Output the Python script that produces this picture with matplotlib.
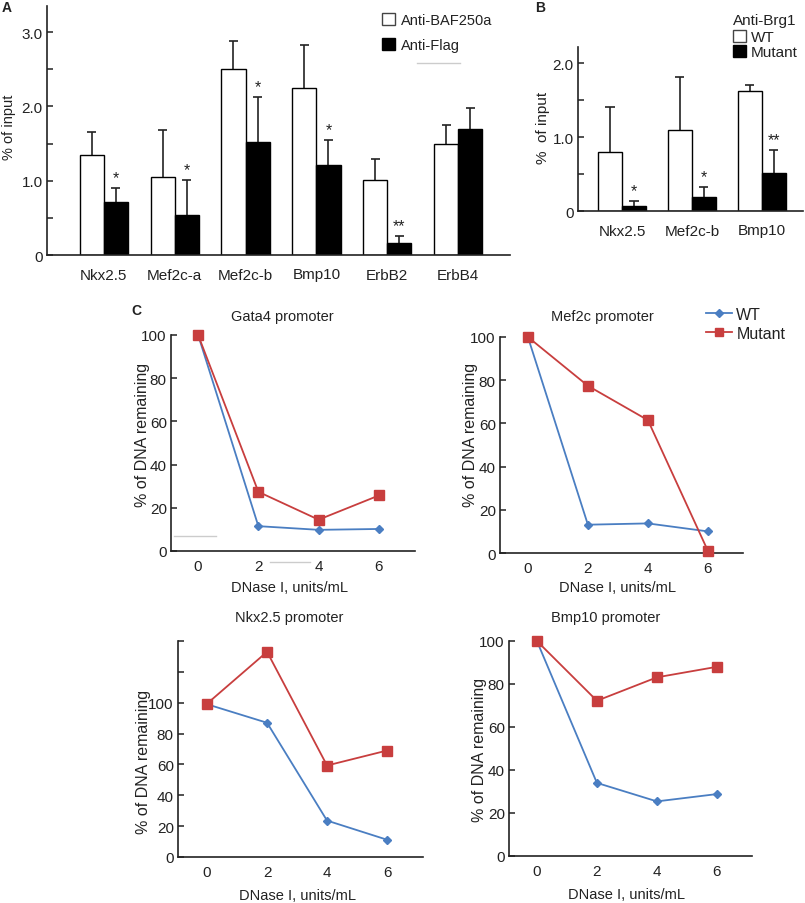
import matplotlib
matplotlib.use("Agg")
import matplotlib.pyplot as plt
import numpy as np
from matplotlib.patches import Patch
from matplotlib.lines import Line2D

plt.rcParams['font.family'] = ['Liberation Sans', 'DejaVu Sans']
plt.rcParams['font.size'] = 10
plt.rcParams['text.color'] = '#222222'

# --- Panel A data ---
genes_a = ["Nkx2.5", "Mef2c-a", "Mef2c-b", "Bmp10", "ErbB2", "ErbB4"]
baf_a = [1.35, 1.05, 2.50, 2.25, 1.01, 1.49]
baf_err_a = [0.30, 0.63, 0.38, 0.57, 0.28, 0.26]
flag_a = [0.71, 0.54, 1.52, 1.21, 0.16, 1.70]
flag_err_a = [0.19, 0.47, 0.61, 0.34, 0.10, 0.28]
stars_a = ["*", "*", "*", "*", "**", ""]

# --- Panel B data ---
genes_b = ["Nkx2.5", "Mef2c-b", "Bmp10"]
wt_b = [0.80, 1.10, 1.63]
wt_err_b = [0.61, 0.72, 0.07]
mut_b = [0.07, 0.19, 0.51]
mut_err_b = [0.06, 0.13, 0.31]
stars_b = ["*", "*", "**"]

# --- Panel C data ---
dnase = [0, 2, 4, 6]
gata4_wt = [100, 11.5, 9.8, 10.2]
gata4_mut = [100, 27.4, 14.5, 25.7]
mef2c_wt = [100, 13.1, 13.7, 10.0]
mef2c_mut = [100, 77.4, 61.5, 1.0]
nkx_wt = [99, 87, 23.6, 11.2]
nkx_mut = [99.4, 133, 59.3, 69]
bmp10_wt = [100, 34, 25.4, 28.8]
bmp10_mut = [100, 72.2, 83.1, 88]

W, H = 805, 904
fig = plt.figure(figsize=(W / 100, H / 100), dpi=100)


def rect(left, top, right, bottom):
    return [left / W, 1 - bottom / H, (right - left) / W, (bottom - top) / H]


def px(x, y):
    return x / W, 1 - y / H


def style_axes(ax):
    for s in ["top", "right"]:
        ax.spines[s].set_visible(False)
    for s in ["left", "bottom"]:
        ax.spines[s].set_linewidth(1.2)
        ax.spines[s].set_color("#222222")
    ax.tick_params(axis="y", direction="in", length=4, width=1.1, pad=3, labelsize=10.5, colors="#222222")
    ax.tick_params(axis="x", length=0, pad=6, labelsize=10.5, colors="#222222")


def bar_panel(ax, genes, white, white_err, black, black_err, stars, w=0.34):
    x = np.arange(len(genes))
    ax.bar(x - w / 2, white, w, color="white", edgecolor="black", linewidth=1.0, zorder=2)
    ax.bar(x + w / 2, black, w, color="black", edgecolor="black", linewidth=1.0, zorder=2)
    for xs, vals, errs in [(x - w / 2, white, white_err), (x + w / 2, black, black_err)]:
        for xi, v, e in zip(xs, vals, errs):
            ax.vlines(xi, v, v + e, color="#222222", lw=1.2, zorder=1)
            ax.hlines(v + e, xi - 0.065, xi + 0.065, color="#222222", lw=1.2, zorder=1)
    for xi, v, e, s in zip(x + w / 2, black, black_err, stars):
        if s:
            ax.text(xi, v + e + 0.04, s, ha="center", va="bottom", fontsize=11.5)
    ax.set_xticks(x)
    ax.set_xticklabels(genes)


# Panel A
axA = fig.add_axes(rect(47, 7, 510, 256))
bar_panel(axA, genes_a, baf_a, baf_err_a, flag_a, flag_err_a, stars_a)
axA.set_xlim(-0.80, 5.73)
axA.set_ylim(0, 3.35)
axA.set_yticks(np.arange(0, 3.01, 0.5))
axA.set_yticklabels(["0", "", "1.0", "", "2.0", "", "3.0"])
style_axes(axA)
axA.tick_params(axis="x", pad=9, labelsize=11)
axA.tick_params(axis="y", labelsize=11)
fig.text(*px(9, 127), "% of input", rotation=90, ha="center", va="center", fontsize=10.5)
fig.text(*px(2, 8), "A", fontweight="bold", fontsize=10, ha="left", va="center")
fig.legend(handles=[Patch(facecolor="white", edgecolor="#444444", label="Anti-BAF250a"),
                    Patch(facecolor="black", edgecolor="black", label="Anti-Flag")],
           loc="upper left", bbox_to_anchor=px(382, 14), frameon=False,
           handlelength=0.9, handleheight=0.9, handletextpad=0.4, labelspacing=0.75,
           borderpad=0, borderaxespad=0, fontsize=10.5)

# Panel B
axB = fig.add_axes(rect(578, 48, 803, 212))
bar_panel(axB, genes_b, wt_b, wt_err_b, mut_b, mut_err_b, stars_b, w=0.343)
axB.set_xlim(-0.63, 2.59)
axB.set_ylim(0, 2.22)
axB.set_yticks(np.arange(0, 2.01, 0.5))
axB.set_yticklabels(["0", "", "1.0", "", "2.0"])
style_axes(axB)
axB.tick_params(axis="x", pad=9, labelsize=11)
axB.tick_params(axis="y", labelsize=11)
fig.text(*px(543, 128), "%  of input", rotation=90, ha="center", va="center", fontsize=11)
fig.text(*px(535, 8), "B", fontweight="bold", fontsize=10, ha="left", va="center")
legB = fig.legend(handles=[Patch(facecolor="white", edgecolor="#444444", label="WT"),
                           Patch(facecolor="black", edgecolor="black", label="Mutant")],
                  title="Anti-Brg1", alignment="left", title_fontsize=11,
                  loc="upper left", bbox_to_anchor=px(733, 14), frameon=False,
                  handlelength=0.85, handleheight=0.85, handletextpad=0.3, labelspacing=0.05,
                  borderpad=0, borderaxespad=0, fontsize=11)
legB._legend_box.sep = 2

# Panel C
wt_color = "#4a7ec2"
mut_color = "#c83e3e"


def line_panel(box, wt, mut, ymax, yticks, ylabels, xlim, title, title_xy, ylab_xy, xlab_xy):
    ax = fig.add_axes(rect(*box))
    ax.plot(dnase, wt, color=wt_color, marker="D", markersize=4, lw=1.3, clip_on=False, zorder=3)
    ax.plot(dnase, mut, color=mut_color, marker="s", markersize=7.5, lw=1.3, clip_on=False, zorder=3)
    ax.set_xlim(*xlim)
    ax.set_ylim(0, ymax)
    ax.set_xticks(dnase)
    ax.set_yticks(yticks)
    ax.set_yticklabels(ylabels)
    style_axes(ax)
    ax.tick_params(labelsize=11)
    fig.text(*px(*title_xy), title, ha="center", va="center", fontsize=10.5)
    fig.text(*px(*ylab_xy), "% of DNA remaining", rotation=90, ha="center", va="center", fontsize=11.5)
    fig.text(*px(*xlab_xy), "DNase I, units/mL", ha="center", va="center", fontsize=10.5)
    return ax


y100 = [0, 20, 40, 60, 80, 100]
lab100 = ["0", "20", "40", "60", "80", "100"]

line_panel((171, 336, 415, 552), gata4_wt, gata4_mut, 100, y100, lab100, (-0.9, 7.2),
           "Gata4 promoter", (282, 317), (142, 435), (289, 588))
line_panel((500, 338, 743, 554), mef2c_wt, mef2c_mut, 100, y100, lab100, (-0.93, 7.17),
           "Mef2c promoter", (602, 317), (470, 435), (617, 588))
line_panel((178, 642, 423, 858), nkx_wt, nkx_mut, 140, y100 + [120, 140], lab100 + ["", ""], (-0.97, 7.2),
           "Nkx2.5 promoter", (289, 618), (143, 762), (297, 896))
line_panel((509, 642, 752, 857), bmp10_wt, bmp10_mut, 100, y100, lab100, (-0.93, 7.17),
           "Bmp10 promoter", (606, 618), (479, 750), (627, 895))

fig.text(*px(131, 311), "C", fontweight="bold", fontsize=10, ha="left", va="center")
fig.legend(handles=[Line2D([], [], color=wt_color, marker="D", markersize=4, lw=1.3, label="WT"),
                    Line2D([], [], color=mut_color, marker="s", markersize=6, lw=1.3, label="Mutant")],
           loc="upper left", bbox_to_anchor=px(706, 308), frameon=False,
           handlelength=1.6, handletextpad=0.3, labelspacing=0.25,
           borderpad=0, borderaxespad=0, fontsize=11.5)

# faint gray scan lines present in the original image
for (x0, x1, y) in [(417, 460, 64), (174, 216, 537), (270, 310, 563)]:
    fig.add_artist(Line2D([x0 / W, x1 / W], [1 - y / H, 1 - y / H], color="#cccccc", lw=1))

fig.savefig("out.png", dpi=100)
